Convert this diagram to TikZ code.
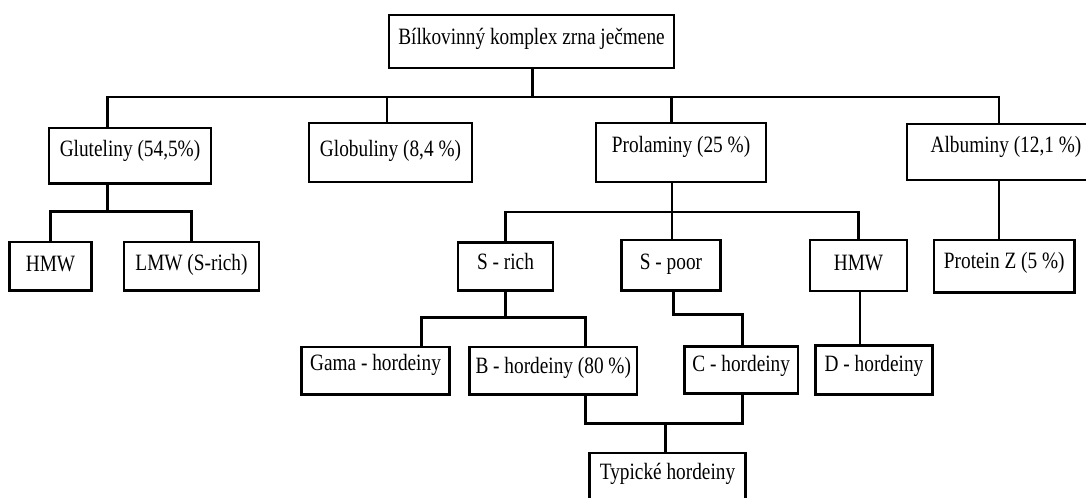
\documentclass[tikz,border=0pt]{standalone}
\usepackage{fontspec}
\setmainfont{Liberation Serif}[FakeStretch=0.825]
\usepackage{tikz}
\newlength{\pxu}
\setlength{\pxu}{0.75pt}
\tikzset{
  box/.style n args={3}{draw, line width=2.2pt, inner sep=0pt, outer sep=0pt, anchor=north west,
    minimum width=#1\pxu, text height=#2\pxu, text depth=#3\pxu},
  link/.style={line width=2.2pt},
}

\begin{document}
\begin{tikzpicture}[x=0.75pt, y=-0.75pt, font=\fontsize{17.55pt}{21pt}\selectfont]
\useasboundingbox (0,0) rectangle (1086,497);
% boxes
\node[box={285}{29}{24}] (title) at (389,15) {Bílkovinný komplex zrna ječmene};
\node[box={162}{28}{27.5}] (glut) at (49,128) {Gluteliny (54,5\%)};
\node[box={163}{33}{26}] (glob) at (309,123) {Globuliny (8,4 \%)};
\node[box={170}{29}{30}] (prol) at (596,123) {Prolaminy (25 \%)};
\node[box={198}{28}{28}] (albu) at (907,124) {Albuminy (12,1 \%)};
\node[box={82}{29.5}{19}] (hmwa) at (9.5,242) {HMW};
\node[box={135}{28}{20.5}] (lmw) at (124,242) {LMW (S-rich)};
\node[box={95}{26.5}{21.5}] (srich) at (458,242.5) {S - rich};
\node[box={99}{29}{21.5}] (spoor) at (621.5,240) {S - poor};
\node[box={97}{30}{21}] (hmwb) at (810,240) {HMW};
\node[box={140.5}{28.7}{23.5}] (protz) at (934,240) {Protein Z (5 \%)};
\node[box={148}{23.7}{24}] (gama) at (301.5,347) {Gama - hordeiny};
\node[box={167.5}{26}{21.7}] (bhord) at (469.5,347) {B - hordeiny (80 \%)};
\node[box={113.5}{25}{22.5}] (chord) at (684.5,346.3) {C - hordeiny};
\node[box={116.6}{26}{23.4}] (dhord) at (815.7,345.3) {D - hordeiny};
\node[box={156.4}{26.7}{30}] (typ) at (589.3,453) {Typické hordeiny};
% links
\draw[link] ([xshift=1\pxu]title.south) -- ++(0,29) coordinate (j0);
\foreach \c/\s in {glut/-22.7, glob/-3.5, prol/-9.7, albu/-7}
  \draw[link] ([xshift=\s\pxu]\c.north) |- (j0);
\draw[link] ([xshift=-22.7\pxu]glut.south) -- ++(0,27.7) coordinate (j1);
\foreach \c in {hmwa, lmw}
  \draw[link] (\c.north) |- (j1);
\draw[link] ([xshift=-9\pxu]prol.south) -- ++(0,30) coordinate (j2);
\foreach \c/\s in {srich/0, spoor/1, hmwb/0}
  \draw[link] ([xshift=\s\pxu]\c.north) |- (j2);
\draw[link] ([xshift=-7\pxu]albu.south) -- ([xshift=-7\pxu]albu.south |- protz.north);
\draw[link] (srich.south) -- ++(0,27.3) coordinate (j3);
\foreach \c/\s in {gama/45.8, bhord/32}
  \draw[link] ([xshift=\s\pxu]\c.north) |- (j3);
\draw[link] ([xshift=2.7\pxu]spoor.south) -- ++(0,24) -| ([xshift=1\pxu]chord.north);
\draw[link] ([xshift=1.5\pxu]hmwb.south) -- ([xshift=1.5\pxu]hmwb.south |- dhord.north);
\draw[link] ([xshift=-2\pxu]typ.north) -- ++(0,-29.7) coordinate (j4);
\foreach \c/\s in {bhord/32, chord/1}
  \draw[link] ([xshift=\s\pxu]\c.south) |- (j4);
\end{tikzpicture}
\end{document}
